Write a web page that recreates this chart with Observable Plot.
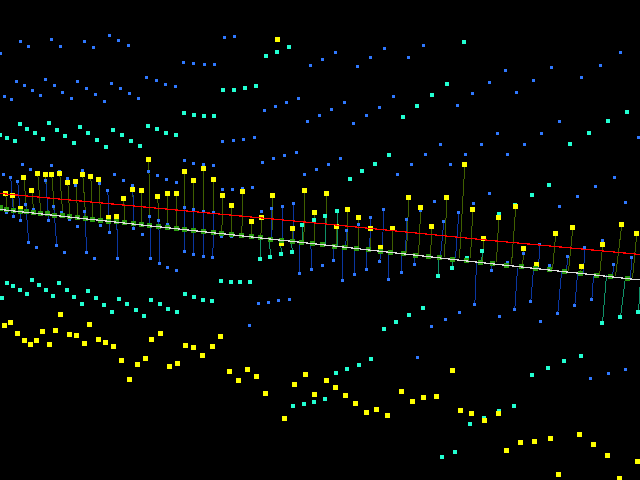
<!DOCTYPE html>
<html>
<head>
<meta charset="utf-8">
<script src="https://cdn.jsdelivr.net/npm/d3@7"></script>
<script src="https://cdn.jsdelivr.net/npm/@observablehq/plot@0.6"></script>
<style>html,body{margin:0;padding:0;background:#000;}svg{display:block;}</style>
</head>
<body>
<div id="chart"></div>
<script>
const bluePoints = [
[20.3,41.3],[28.3,46.3],[51.3,39.3],[60.3,46.3],[84.3,41.3],[93.3,47.3],[109.3,35.3],[118.3,40.3],[128.3,45.3],[0.7,53.3],
[224.3,37.3],[234.3,36.3],[183.3,62.3],[193.3,63.3],[204.3,64.3],[214.3,64.3],[310.3,65.3],[16.3,81.3],[24.3,85.3],[32.3,90.3],
[40.3,95.3],[4.3,96.3],[11.3,99.3],[45.3,79.3],[54.3,85.3],[62.3,92.3],[71.3,98.3],[77.3,81.3],[86.3,88.3],[95.3,94.3],
[104.3,101.3],[111.3,83.3],[120.3,88.3],[129.3,93.3],[138.3,98.3],[146.3,77.3],[156.3,80.3],[165.3,84.3],[175.3,86.3],[264.3,110.3],
[275.3,106.3],[286.3,102.3],[298.3,98.3],[307.3,121.3],[319.3,115.3],[222.3,141.3],[233.3,140.3],[243.3,139.3],[254.3,137.3],[273.3,158.3],
[284.3,155.3],[296.3,152.3],[184.3,160.3],
[335.3,52.3],[322.3,59.3],[384.3,48.3],[370.3,57.3],[357.3,66.3],[423.3,45.3],[408.3,57.3],[505.3,70.3],[489.3,82.3],[472.3,93.3],
[457.3,105.3],[551.3,67.3],[533.3,80.3],[516.3,92.3],[497.3,133.3],[481.3,144.3],[465.3,154.3],[600.3,65.3],[581.3,77.3],[559.3,121.3],
[541.3,133.3],[524.3,144.3],[507.3,154.3],[620.3,52.3],[638.3,137.3],[344.3,102.3],[331.3,109.3],[393.3,96.3],[379.3,107.3],[366.3,115.3],
[353.3,123.3],[440.3,144.3],[425.3,154.3],[340.3,158.3],
[22.3,164.3],[30.3,169.3],[51.3,165.3],[59.3,171.3],[3.3,174.3],[10.3,177.3],[17.3,181.3],[45.3,180.3],[67.3,178.3],[82.3,170.3],
[75.3,185.3],[99.3,183.3],[114.3,174.3],[123.3,180.3],[132.3,185.3],[107.3,190.3],[148.3,171.3],[157.3,175.3],[166.3,179.3],[176.3,182.3],
[193.3,163.3],[203.3,164.3],[213.3,165.3],[262.3,162.3],[304.3,174.3],[316.3,169.3],[222.3,189.3],[232.3,189.3],[242.3,188.3],[252.3,187.3],
[25.3,204.3],[33.3,209.3],[53.3,206.3],[61.3,212.3],[84.3,211.3],[6.3,212.3],[13.3,216.3],[20.3,220.3],[48.3,220.3],[69.3,219.3],
[77.3,226.3],[100.3,225.3],[109.3,232.3],[133.3,228.3],[142.3,234.3],[149.3,216.3],[158.3,220.3],[167.3,224.3],[176.3,228.3],[184.3,207.3],
[193.3,209.3],[203.3,211.3],[213.3,212.3],[221.3,236.3],[231.3,236.3],[28.3,242.3],[36.3,247.3],[56.3,245.3],[64.3,252.3],[86.3,252.3],
[94.3,258.3],[117.3,258.3],[150.3,258.3],[159.3,263.3],[167.3,267.3],[176.3,270.3],[184.3,251.3],[193.3,254.3],[203.3,256.3],[212.3,257.3],
[261.3,211.3],[271.3,208.3],[282.3,206.3],[293.3,203.3],[299.3,273.3],[311.3,269.3],[258.3,303.3],[268.3,302.3],[278.3,300.3],[289.3,299.3],
[328.3,164.3],[411.3,164.3],[450.3,164.3],[397.3,174.3],[614.3,177.3],[595.3,186.3],[577.3,196.3],[489.3,193.3],[625.3,202.3],[434.3,201.3],
[473.3,203.3],[559.3,206.3],[383.3,209.3],[370.3,217.3],[458.3,212.3],[443.3,221.3],[406.3,219.3],[420.3,210.3],[358.3,224.3],[346.3,230.3],
[602.3,240.3],[539.3,244.3],[584.3,247.3],[523.3,253.3],[631.3,257.3],[567.3,256.3],[507.3,262.3],[613.3,264.3],[549.3,265.3],[333.3,260.3],
[322.3,265.3],[414.3,264.3],[366.3,269.3],[354.3,274.3],[342.3,280.3],[388.3,279.3],[401.3,272.3],[491.3,270.3],[379.3,261.3],[530.3,301.3],
[514.3,309.3],[474.3,304.3],[574.3,305.3],[591.3,299.3],[557.3,313.3],[459.3,312.3],[499.3,316.3],[445.3,319.3],[249.3,325.3],[431.3,326.3],
[417.3,357.3],[540.3,321.3],[590.3,378.3],[608.3,373.3],[625.3,369.3]
];

const cyanPoints = [
[277,52],[289,47],[266,56],[223,90],[234,90],[245,88],[256,86],[184,113],[194,115],[204,116],[214,116],[20,124],[27,129],[35,133],[43,139],
[7,138],[15,141],[0,135],[49,123],[57,130],[65,136],[74,143],[80,127],[88,133],[97,140],[106,147],[113,130],[122,135],[131,141],[140,146],
[148,126],[157,129],[166,133],[176,135],[464,42],[447,84],[432,95],[417,106],[403,117],[389,155],[627,112],[608,121],[589,133],[570,144],
[7,283],[13,286],[20,290],[27,294],[2,298],[32,280],[39,285],[46,290],[53,296],[59,283],[67,290],[74,297],[82,304],[88,291],[96,298],
[104,305],[112,312],[119,299],[127,304],[136,310],[144,316],[151,300],[160,304],[168,309],[177,312],[185,294],[194,297],[203,300],[212,301],
[221,281],[231,282],[240,282],[250,282],[260,259],[270,257],[281,254],[292,252],[302,225],[314,220],[375,164],[362,171],[350,179],[549,185],
[532,195],[325,216],[337,211],[515,205],[499,214],[482,251],[452,268],[438,276],[467,258],[423,308],[409,315],[620,317],[638,312],[396,322],
[384,329],[371,359],[359,365],[347,369],[336,373],[325,399],[514,406],[499,411],[484,418],[470,424],[455,452],[442,457],[532,375],[548,368],
[564,361],[581,356],[602,323],[293,406],[304,404],[314,402]
];

const yellowPoints = [
[277.3,39.3],[148.3,159.3],[184.3,171.3],[203.3,168.3],[193.3,180.3],[213.3,179.3],[23.3,177.3],[37.3,173.3],[45.3,174.3],[51.3,174.3],
[59.3,173.3],[67.3,182.3],[75.3,181.3],[82.3,174.3],[90.3,176.3],[98.3,179.3],[31.3,190.3],[5.3,193.3],[12.3,195.3],[123.3,198.3],
[132.3,189.3],[141.3,190.3],[157.3,196.3],[167.3,193.3],[176.3,193.3],[222.3,195.3],[231.3,205.3],[242.3,191.3],[272.3,195.3],[304.3,190.3],
[251.3,221.3],[261.3,217.3],[292.3,228.3],[314.3,212.3],[281.3,243.3],[108.3,217.3],[116.3,216.3],[20.3,208.3],[60.3,314.3],
[464.3,164.3],[326.3,193.3],[408.3,197.3],[446.3,197.3],[347.3,209.3],[420.3,207.3],[472.3,209.3],[515.3,206.3],[358.3,217.3],[498.3,217.3],
[431.3,226.3],[572.3,227.3],[621.3,224.3],[555.3,233.3],[636.3,233.3],[336.3,226.3],[370.3,228.3],[392.3,228.3],[483.3,238.3],[602.3,244.3],
[523.3,248.3],[380.3,247.3],[536.3,264.3],[581.3,266.3],
[4.3,325.3],[10.3,322.3],[17.3,333.3],[24.3,340.3],[30.3,344.3],[36.3,340.3],[42.3,331.3],[49.3,344.3],[55.3,330.3],[69.3,334.3],
[76.3,335.3],[84.3,343.3],[89.3,324.3],[98.3,339.3],[105.3,342.3],[113.3,346.3],[121.3,360.3],[137.3,364.3],[145.3,358.3],[129.3,379.3],
[151.3,339.3],[160.3,333.3],[185.3,345.3],[193.3,347.3],[202.3,355.3],[212.3,346.3],[220.3,336.3],[169.3,366.3],[177.3,363.3],[229.3,371.3],
[247.3,369.3],[238.3,380.3],[256.3,376.3],[265.3,393.3],[305.3,374.3],[294.3,384.3],[314.3,394.3],[284.3,418.3],
[326.3,380.3],[335.3,387.3],[345.3,395.3],[355.3,403.3],[366.3,412.3],[376.3,409.3],[387.3,415.3],[401.3,391.3],[412.3,401.3],[423.3,397.3],
[436.3,396.3],[452.3,370.3],[460.3,410.3],[471.3,413.3],[484.3,420.3],[498.3,413.3],[506.3,450.3],[520.3,442.3],[534.3,441.3],[550.3,438.3],
[579.3,434.3],[593.3,444.3],[607.3,455.3],[637.3,461.3],[558.3,474.3],[619.3,478.3]
];

const greenPoints = [
[0,208],[6.3,209.3],[13.3,210.3],[20.3,211.3],[26.3,211.3],[33.3,212.3],[40.3,213.3],[47.3,213.3],[54.3,215.3],[62.3,215.3],[69.3,216.3],
[77.3,217.3],[85.3,218.3],[92.3,219.3],[100.3,220.3],[108.3,221.3],[116.3,221.3],[124.3,222.3],[133.3,223.3],[141.3,224.3],[149.3,225.3],
[158.3,226.3],[167.3,227.3],[176.3,228.3],[184.3,229.3],[193.3,230.3],[203.3,231.3],[213.3,232.3],[221.3,233.3],[231.3,234.3],[241.3,235.3],
[251.3,236.3],[260.3,237.3],[270.3,239.3],[281.3,240.3],[292.3,241.3],[301.3,242.3],[312.3,243.3],[322.3,244.3],[334.3,246.3],[344.3,247.3],
[356.3,248.3],[368.3,249.3],[380.3,251.3],[390.3,252.3],[403.3,253.3],[415.3,255.3],[428.3,256.3],[439.3,257.3],[452.3,259.3],[466.3,260.3],
[480.3,262.3],[492.3,263.3],[506.3,265.3],[521.3,266.3],[535.3,268.3],[549.3,269.3],[564.3,271.3],[580.3,273.3],[596.3,275.3],[610.3,276.3],
[627.3,278.3]
];

// far end and foot of each stem: x1, y1, x2, y2
const oliveStems = [
[5.3,193.3,6.3,209],[12.3,195.3,13.3,210],[23.3,177.3,26.3,211],[31.3,190.3,33.3,212],[37.3,173.3,40.3,213],[45.3,174.3,47.3,213],
[51.3,174.3,54.3,215],[59.3,173.3,62.3,215],[67.3,182.3,69.3,216],[75.3,181.3,77.3,217],[82.3,174.3,85.3,218],[90.3,176.3,92.3,219],
[98.3,179.3,100.3,220],[123.3,198.3,124.3,222],[132.3,189.3,133.3,223],[141.3,190.3,141.3,224],[148.3,159.3,149.3,225],[157.3,196.3,158.3,226],
[167.3,193.3,167.3,227],[176.3,193.3,176.3,228],[184.3,171.3,184.3,229],[193.3,180.3,193.3,230],[203.3,168.3,203.3,231],[213.3,179.3,213.3,232],
[222.3,195.3,221.3,233],[231.3,205.3,231.3,234],[242.3,191.3,241.3,235],[251.3,221.3,251.3,236],[261.3,217.3,260.3,237],[272.3,195.3,271.3,239],
[292.3,228.3,292.3,241],[304.3,190.3,303.3,242],[314.3,212.3,314,245],[326.3,193.3,325,244],[336.3,226.3,335.7,246],[347.3,209.3,347,247],
[358.3,217.3,358,248],[370.3,228.3,370,250],[392.3,228.3,392,252],[408.3,197.3,406,253],[420.3,207.3,418,255],[431.3,226.3,430,256],
[446.3,197.3,444,257],[464.3,164.3,459,258],[472.3,209.3,470,258],[483.3,238.3,482,262],[498.3,217.3,496,262],[515.3,206.3,511,264],
[523.3,248.3,522,267],[555.3,233.3,552,269],[572.3,227.3,568,271],[581.3,266.3,580,272],[602.3,244.3,599,275],[621.3,224.3,615,276],[636.3,233.3,632,278]
];

const blueStems = [
[10.3,177.3,13.3,216.3],[17.3,181.3,20.3,220.3],[25.3,204.3,28.3,242.3],[45.3,180.3,48.3,220.3],[53.3,206.3,56.3,245.3],[84.3,211.3,86.3,252.3],
[107.3,190.3,109.3,232.3],[116.3,221,117.3,258.3],[132.3,185.3,133.3,228.3],[149.3,216.3,150.3,258.3],[158.3,220.3,159.3,263.3],[184.3,207.3,184.3,251.3],
[193.3,209.3,193.3,254.3],[203.3,211.3,203.3,256.3],[213.3,212.3,212.3,257.3],[271.3,208.3,271,238],[282.3,206.3,282,240],[293.3,203.3,293,241],
[299.3,241,299.3,273.3],[310.3,243,311.3,269.3],[333.3,246,333.3,260.3],[342.3,248,342.3,280.3],[346.3,230.3,345,247],[354.3,249,354.3,274.3],
[366.3,250,366.3,269.3],[370.3,217.3,369,250],[383.3,209.3,382,245],[388.3,252,388.3,279.3],[380,250,379.3,261.3],[401.3,253,401.3,272.3],
[406.3,219.3,405,253],[414.3,255,414.3,264.3],[443.3,221.3,440,256],[458.3,212.3,455,258],[476,263,474.3,304.3],[517,268,514.3,309.3],
[533,269,530.3,301.3],[491.3,263,491.3,270.3],[539.3,244.3,538,268],[561,272,557.3,313.3],[567.3,256.3,566,270],[577,274,574.3,305.3],
[584.3,247.3,583,273],[593,276,591.3,299.3],[613.3,264.3,612,277],[631.3,257.3,630,278]
];

const tealStems = [
[260,238,260,259],[269,239,270,257],[280,241,281,254],[291,242,292,252],[302,225,302,243],[325,216,325,244],[337,211,337,246],
[438,258,438,276],[452,260,452,268],[482,251,481,262],[606,275,602,323],[625,277,620,317],[640,279,638,312]
];

const whiteLine = [[0,209],[160,226.5],[320,244],[480,262],[640,279.5]];
const redLine = [[0,193],[160,208],[320,223],[480,239],[640,254]];

const crisp = {shapeRendering: "crispEdges"};
const squares = (data, side, fill) => Plot.rect(data, {
  x1: d => d[0] - side / 2, x2: d => d[0] + side / 2,
  y1: d => d[1] - side / 2, y2: d => d[1] + side / 2,
  fill, ...crisp
});
const stems = (data, stroke) => Plot.link(data, {x1: d => d[0], y1: d => d[1], x2: d => d[2], y2: d => d[3], stroke, strokeWidth: 1, ...crisp});
const path = (data, stroke) => Plot.line(data, {x: d => d[0], y: d => d[1], stroke, strokeWidth: 1.2, ...crisp});

const chart = Plot.plot({
  width: 640,
  height: 480,
  margin: 0,
  style: {background: "#000"},
  x: {domain: [0, 640], axis: null},
  y: {domain: [480, 0], axis: null},
  marks: [
    stems(oliveStems, "#3f5f00"),
    stems(blueStems, "#0a36a0"),
    stems(tealStems, "#0f9068"),
    squares(bluePoints, 3, "#2f78ff"),
    squares(cyanPoints, 4, "#22ffd2"),
    squares(yellowPoints, 5, "#ffff00"),
    squares(greenPoints, 5.5, "#2a9c10"),
    path(whiteLine, "#dcdcdc"),
    path(redLine, "#ff0000")
  ]
});
document.getElementById("chart").appendChild(chart);
</script>
</body>
</html>
